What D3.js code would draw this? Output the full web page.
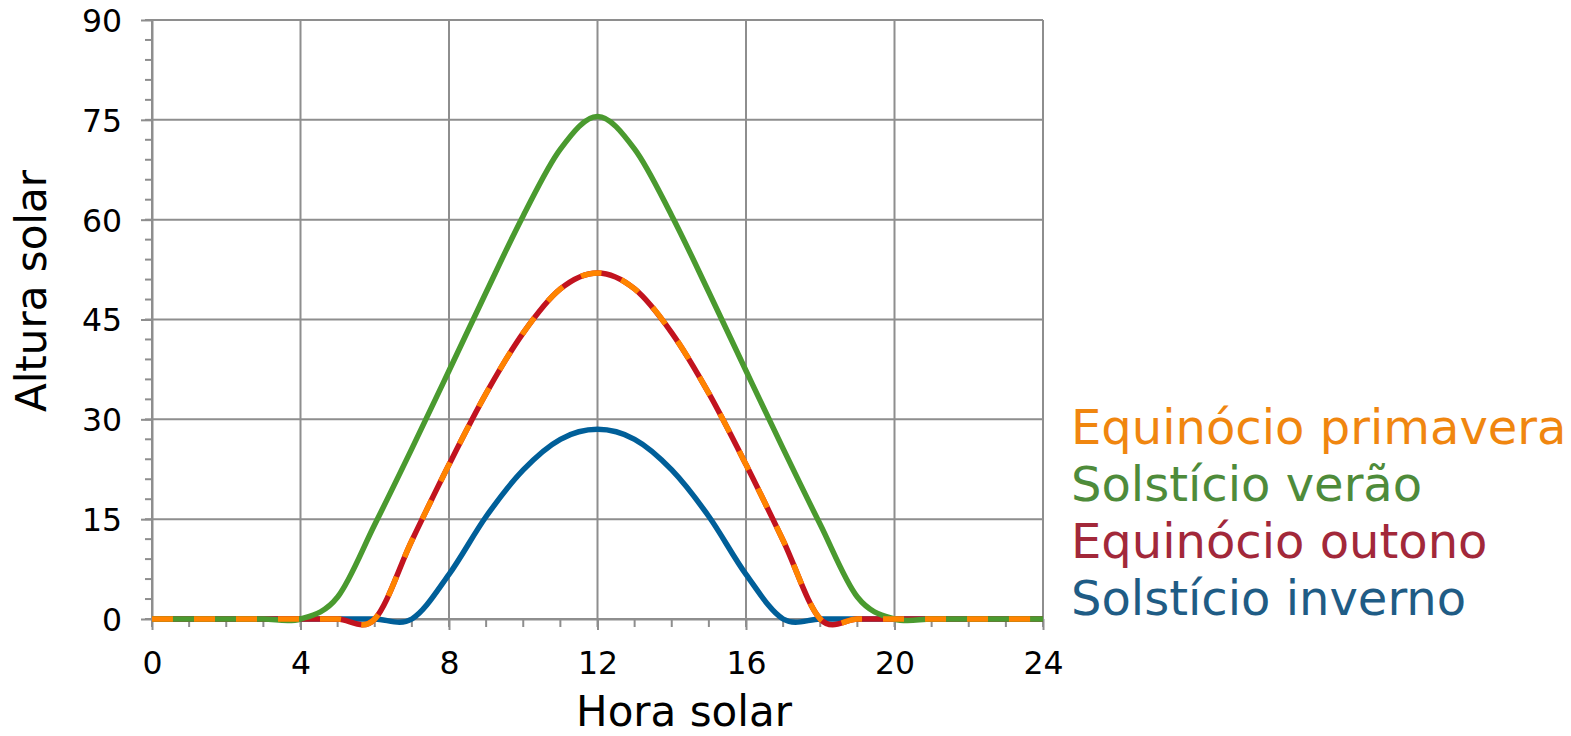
<!DOCTYPE html>
<html>
<head>
<meta charset="utf-8">
<script src="https://cdn.jsdelivr.net/npm/d3@7"></script>
<style>
  html, body { margin: 0; padding: 0; background: #ffffff; }
  svg { display: block; }
  text { font-family: "DejaVu Sans", Verdana, sans-serif; }
</style>
</head>
<body>
<svg id="chart" width="1571" height="736"></svg>
<script>
// Solar hour (0..24) and solar altitude in degrees for each season
const hours = [0, 1, 2, 3, 4, 5, 6, 7, 8, 9, 10, 11, 12, 13, 14, 15, 16, 17, 18, 19, 20, 21, 22, 23, 24];
const primavera = [0, 0, 0, 0, 0, 0, 0, 11.8, 23.2, 33.9, 43.0, 49.6, 52.0, 49.6, 43.0, 33.9, 23.2, 11.8, 0, 0, 0, 0, 0, 0, 0];
const verao     = [0, 0, 0, 0, 0, 3.3, 14.2, 25.6, 37.3, 49.1, 60.6, 70.6, 75.5, 70.6, 60.6, 49.1, 37.3, 25.6, 14.2, 3.3, 0, 0, 0, 0, 0];
const outono    = [0, 0, 0, 0, 0, 0, 0, 11.8, 23.2, 33.9, 43.0, 49.6, 52.0, 49.6, 43.0, 33.9, 23.2, 11.8, 0, 0, 0, 0, 0, 0, 0];
const inverno   = [0, 0, 0, 0, 0, 0, 0, 0, 6.7, 15.4, 22.4, 27.0, 28.5, 27.0, 22.4, 15.4, 6.7, 0, 0, 0, 0, 0, 0, 0, 0];

const xTicks = [0, 4, 8, 12, 16, 20, 24];
const yTicks = [0, 15, 30, 45, 60, 75, 90];
const xMinor = d3.range(0, 25, 1);
const yMinor = d3.range(0, 91, 3);

const legendNames = ["Equinócio primavera", "Solstício verão", "Equinócio outono", "Solstício inverno"];

const svg = d3.select("#chart");
const plot = { left: 152, right: 1043, top: 20, bottom: 619 };

const x = d3.scaleLinear().domain([0, 24]).range([plot.left, plot.right]);
const y = d3.scaleLinear().domain([0, 90]).range([plot.bottom, plot.top]);

const gridColor = "#8e8e8e";

// Gridlines
const grid = svg.append("g");
grid.selectAll("line.v").data(xTicks).join("line")
  .attr("x1", d => x(d)).attr("x2", d => x(d))
  .attr("y1", plot.top).attr("y2", plot.bottom)
  .attr("stroke", gridColor).attr("stroke-width", 2);
grid.selectAll("line.h").data(yTicks).join("line")
  .attr("x1", plot.left).attr("x2", plot.right)
  .attr("y1", d => y(d)).attr("y2", d => y(d))
  .attr("stroke", gridColor).attr("stroke-width", 2);

// Minor ticks
svg.append("g").selectAll("line").data(yMinor).join("line")
  .attr("x1", plot.left - 7).attr("x2", plot.left)
  .attr("y1", d => y(d)).attr("y2", d => y(d))
  .attr("stroke", gridColor).attr("stroke-width", 2);
svg.append("g").selectAll("line").data(xMinor).join("line")
  .attr("x1", d => x(d)).attr("x2", d => x(d))
  .attr("y1", plot.bottom).attr("y2", plot.bottom + 8)
  .attr("stroke", gridColor).attr("stroke-width", 2);

// Axes with major ticks
const xAxis = svg.append("g")
  .attr("transform", `translate(0,${plot.bottom})`)
  .call(d3.axisBottom(x).tickValues(xTicks).tickSize(11).tickPadding(22).tickSizeOuter(0));
const yAxis = svg.append("g")
  .attr("transform", `translate(${plot.left},0)`)
  .call(d3.axisLeft(y).tickValues(yTicks).tickSize(11).tickPadding(19).tickSizeOuter(0));

[xAxis, yAxis].forEach(a => {
  a.select(".domain").attr("stroke", gridColor).attr("stroke-width", 2);
  a.selectAll(".tick line").attr("stroke", gridColor).attr("stroke-width", 2);
  a.selectAll(".tick text")
    .attr("font-family", "DejaVu Sans, Verdana, sans-serif")
    .attr("font-size", 31.5).attr("fill", "#000");
});
yAxis.selectAll(".tick text").attr("dy", "0.36em");
xAxis.selectAll(".tick text").attr("dy", "0.71em");

// Axis titles
svg.append("text")
  .attr("x", 684).attr("y", 726)
  .attr("text-anchor", "middle").attr("font-size", 42).attr("fill", "#000")
  .text("Hora solar");
svg.append("text")
  .attr("transform", "translate(46,291) rotate(-90)")
  .attr("text-anchor", "middle").attr("font-size", 42).attr("fill", "#000")
  .text("Altura solar");

// Series lines (smoothed)
const line = d3.line()
  .x((d, i) => x(hours[i]))
  .y(d => y(d))
  .curve(d3.curveCardinal.tension(0));

const series = [
  { values: inverno,   color: "#005f99", dash: null },
  { values: outono,    color: "#c2131f", dash: null },
  { values: verao,     color: "#4a9a2f", dash: null },
  { values: primavera, color: "#ff8400", dash: "21,21" }
];

svg.append("g").selectAll("path").data(series).join("path")
  .attr("d", d => line(d.values))
  .attr("fill", "none")
  .attr("stroke", d => d.color)
  .attr("stroke-width", 5.5)
  .attr("stroke-linejoin", "round")
  .attr("stroke-dasharray", d => d.dash);

// Legend
const legendColors = ["#f0860f", "#4e8b3a", "#a2283a", "#1f5c85"];
svg.append("g").selectAll("text").data(legendNames).join("text")
  .attr("x", 1071)
  .attr("y", (d, i) => 444 + i * 57)
  .attr("font-size", 48)
  .attr("fill", (d, i) => legendColors[i])
  .text(d => d);
</script>
</body>
</html>
